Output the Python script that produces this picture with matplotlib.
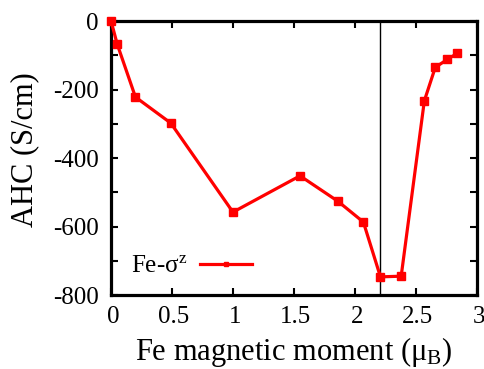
import numpy as np
import matplotlib
matplotlib.use('Agg')
import matplotlib.pyplot as plt
from matplotlib.ticker import MultipleLocator
from matplotlib.transforms import ScaledTranslation

plt.rcParams['font.family'] = ['Liberation Serif', 'DejaVu Serif']
plt.rcParams['mathtext.fontset'] = 'custom'
plt.rcParams['mathtext.rm'] = 'Liberation Serif'
plt.rcParams['mathtext.it'] = 'Liberation Serif:italic'
plt.rcParams['axes.unicode_minus'] = False

# Fe moment (mu_B) vs anomalous Hall conductivity (S/cm)
moment = [0.0, 0.05, 0.20, 0.49, 1.00, 1.55, 1.86, 2.07, 2.21, 2.38, 2.57, 2.66, 2.76, 2.84]
ahc = [0, -67, -222, -298, -558, -452, -526, -587, -747, -745, -233, -135, -112, -94]
moment_cut = 2.21

xticks = [0, 0.5, 1, 1.5, 2, 2.5, 3]
xticklabels = ['0', '0.5', '1', '1.5', '2', '2.5', '3']
yticks = [0, -200, -400, -600, -800]

fig = plt.figure(figsize=(4.85, 3.69), dpi=100)
ax = fig.add_axes([0.229, 0.2005, 0.754, 0.7425])

ax.plot(moment, ahc, color='#ff0000', lw=2.3, marker='s', ms=5.5,
        label='Fe-σ$^{\\rm z}$', clip_on=False, zorder=3)
ax.axvline(moment_cut, color='black', lw=1.0, zorder=2)

ax.set_xlim(0, 3)
ax.set_ylim(-800, 0)
ax.set_xticks(xticks)
ax.set_xticklabels(xticklabels)
ax.set_yticks(yticks)
ax.yaxis.set_minor_locator(MultipleLocator(100))

ax.tick_params(which='both', direction='in', top=True, right=True,
               labelsize=18, width=1.5, length=5)
ax.tick_params(axis='x', pad=8)
ax.tick_params(axis='y', pad=9)
for s in ax.spines.values():
    s.set_linewidth(2.3)

# nudge x tick labels slightly right
shift = ScaledTranslation(2 / 100, 0, fig.dpi_scale_trans)
for lab in ax.get_xticklabels():
    lab.set_transform(lab.get_transform() + shift)

ax.set_xlabel('Fe magnetic moment (μ$_{\\rm B}$)', fontsize=22, labelpad=5)
ax.set_ylabel('AHC (S/cm)', fontsize=22)
ax.yaxis.set_label_coords(-0.197, 0.53)

leg = ax.legend(loc='center left', frameon=False, fontsize=18,
                handlelength=2.1, handletextpad=0.5, markerfirst=False,
                bbox_to_anchor=(0.055, 0.105), borderpad=0, borderaxespad=0,
                markerscale=0.45)

fig.savefig('out.png', dpi=100)
